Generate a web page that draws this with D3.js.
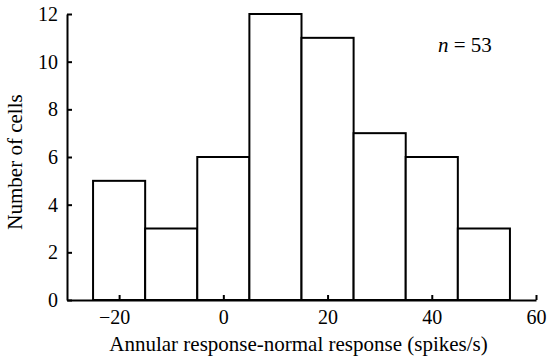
<!DOCTYPE html>
<html><head><meta charset="utf-8">
<script src="https://cdn.jsdelivr.net/npm/d3@7"></script>
<style>
body{margin:0;background:#fff;}
</style></head>
<body><svg id="c" width="550" height="360"></svg>
<script>
const binStarts = [-25, -15, -5, 5, 15, 25, 35, 45];
const binWidth = 10;
const counts = [5, 3, 6, 12, 11, 7, 6, 3];
const xTicks = [-20, 0, 20, 40, 60];
const yTicks = [0, 2, 4, 6, 8, 10, 12];
const xLabel = "Annular response-normal response (spikes/s)";
const yLabel = "Number of cells";
const nLabel = "53";

const FONT = "Liberation Serif";
const svg = d3.select("#c");
const x = d3.scaleLinear().domain([-30, 60]).range([67, 536]);
const y = d3.scaleLinear().domain([0, 12]).range([300, 14]);

svg.selectAll("rect.bar").data(counts).enter().append("rect")
  .attr("class","bar")
  .attr("x",(d,i)=>x(binStarts[i]))
  .attr("width",(d,i)=>x(binStarts[i]+binWidth)-x(binStarts[i]))
  .attr("y",d=>y(d))
  .attr("height",d=>y(0)-y(d))
  .attr("fill","#fff").attr("stroke","#000").attr("stroke-width",2);

const xa = svg.append("g").attr("transform",`translate(0,${y(0)})`)
  .call(d3.axisBottom(x).tickValues(xTicks).tickSizeInner(-5).tickSizeOuter(0).tickPadding(10)
    .tickFormat(d=>d<0?"\u2212"+Math.abs(d):d));
xa.selectAll(".tick text").filter(d=>d<0).attr("dx","-0.25em");
const ya = svg.append("g").attr("transform",`translate(${x(-30)},0)`)
  .call(d3.axisLeft(y).tickValues(yTicks).tickSizeInner(-5).tickSizeOuter(0).tickPadding(9));
[xa,ya].forEach(g=>{
  g.attr("font-family",FONT).attr("font-size",20);
  g.select(".domain").attr("stroke","#000").attr("stroke-width",2);
  g.selectAll(".tick line").attr("stroke","#000").attr("stroke-width",2);
  g.selectAll(".tick text").attr("fill","#000");
});

svg.append("text").attr("x",(x(-30)+x(60))/2 - 3).attr("y",351)
  .attr("font-family",FONT).attr("text-anchor","middle").attr("font-size",21).text(xLabel);
svg.append("text").attr("transform","translate(22,162) rotate(-90)")
  .attr("font-family",FONT).attr("text-anchor","middle").attr("font-size",21).text(yLabel);
const t = svg.append("text").attr("x",438).attr("y",52).attr("font-family",FONT).attr("font-size",21);
t.append("tspan").attr("font-style","italic").text("n");
t.append("tspan").text(" = " + nLabel);
</script></body></html>
